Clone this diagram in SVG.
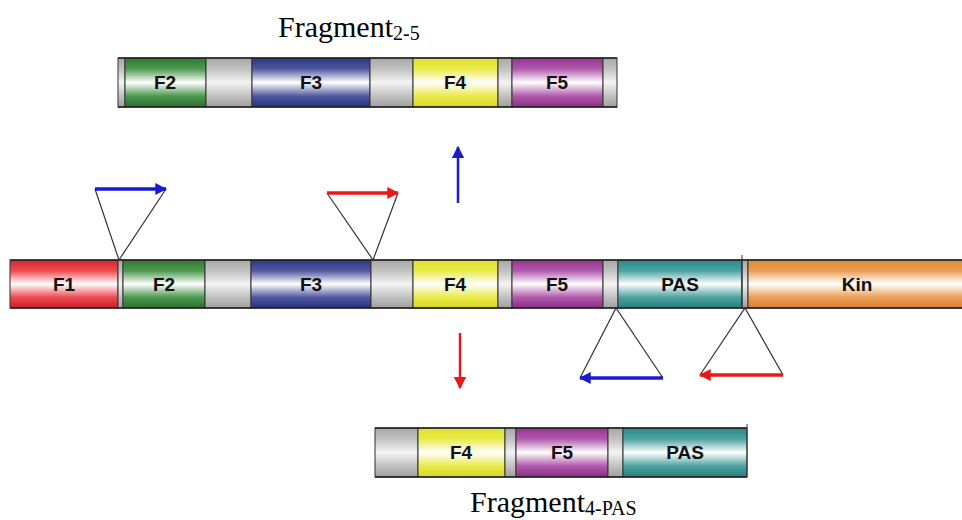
<svg xmlns="http://www.w3.org/2000/svg" width="962" height="520" viewBox="0 0 962 520">
<defs>
<linearGradient id="gR" x1="0" y1="0" x2="0" y2="1"><stop offset="0" stop-color="#d8262c"/><stop offset="0.22" stop-color="#ec4a50"/><stop offset="0.5" stop-color="#ffffff"/><stop offset="0.78" stop-color="#ec4a50"/><stop offset="1" stop-color="#c81e24"/></linearGradient>
<linearGradient id="gG" x1="0" y1="0" x2="0" y2="1"><stop offset="0" stop-color="#2f7a34"/><stop offset="0.22" stop-color="#4c984f"/><stop offset="0.5" stop-color="#ffffff"/><stop offset="0.78" stop-color="#4c984f"/><stop offset="1" stop-color="#2a6e2e"/></linearGradient>
<linearGradient id="gB" x1="0" y1="0" x2="0" y2="1"><stop offset="0" stop-color="#2a3585"/><stop offset="0.22" stop-color="#4f58a0"/><stop offset="0.5" stop-color="#ffffff"/><stop offset="0.78" stop-color="#4f58a0"/><stop offset="1" stop-color="#262f7a"/></linearGradient>
<linearGradient id="gY" x1="0" y1="0" x2="0" y2="1"><stop offset="0" stop-color="#e0e030"/><stop offset="0.22" stop-color="#eaea48"/><stop offset="0.5" stop-color="#ffffff"/><stop offset="0.78" stop-color="#eaea48"/><stop offset="1" stop-color="#d6d628"/></linearGradient>
<linearGradient id="gP" x1="0" y1="0" x2="0" y2="1"><stop offset="0" stop-color="#94348f"/><stop offset="0.22" stop-color="#b058ac"/><stop offset="0.5" stop-color="#ffffff"/><stop offset="0.78" stop-color="#b058ac"/><stop offset="1" stop-color="#892e85"/></linearGradient>
<linearGradient id="gT" x1="0" y1="0" x2="0" y2="1"><stop offset="0" stop-color="#2a8a88"/><stop offset="0.22" stop-color="#4ca2a0"/><stop offset="0.5" stop-color="#ffffff"/><stop offset="0.78" stop-color="#4ca2a0"/><stop offset="1" stop-color="#257f7d"/></linearGradient>
<linearGradient id="gO" x1="0" y1="0" x2="0" y2="1"><stop offset="0" stop-color="#e08a3a"/><stop offset="0.22" stop-color="#ea9e54"/><stop offset="0.5" stop-color="#ffffff"/><stop offset="0.78" stop-color="#ea9e54"/><stop offset="1" stop-color="#d88030"/></linearGradient>
<linearGradient id="gS" x1="0" y1="0" x2="0" y2="1"><stop offset="0" stop-color="#a8a8a8"/><stop offset="0.22" stop-color="#c0c0c0"/><stop offset="0.5" stop-color="#f4f4f4"/><stop offset="0.78" stop-color="#c0c0c0"/><stop offset="1" stop-color="#a0a0a0"/></linearGradient>
<marker id="aB" viewBox="0 0 10 10" refX="9" refY="5" markerWidth="3.4" markerHeight="3.4" orient="auto" markerUnits="strokeWidth"><path d="M0,0 L10,5 L0,10 z" fill="#1a1ad0"/></marker>
<marker id="aR" viewBox="0 0 10 10" refX="9" refY="5" markerWidth="3.4" markerHeight="3.4" orient="auto" markerUnits="strokeWidth"><path d="M0,0 L10,5 L0,10 z" fill="#e81818"/></marker>
<marker id="vB" viewBox="0 0 10 10" refX="9" refY="5" markerWidth="5" markerHeight="5" orient="auto" markerUnits="strokeWidth"><path d="M0,0 L10,5 L0,10 z" fill="#1a1ad0"/></marker>
<marker id="vR" viewBox="0 0 10 10" refX="9" refY="5" markerWidth="5" markerHeight="5" orient="auto" markerUnits="strokeWidth"><path d="M0,0 L10,5 L0,10 z" fill="#e81818"/></marker>
</defs>
<style>
.seg{stroke:#333;stroke-width:1}
.lbl{font-family:"Liberation Sans",Arial,sans-serif;font-weight:bold;font-size:19px;fill:#111;text-anchor:middle}
.tri{fill:none;stroke:#333;stroke-width:1.2}
.blue{stroke:#1a1ad0;stroke-width:3.5;fill:none}
.red{stroke:#e81818;stroke-width:3.5;fill:none}
.vb{stroke:#1a1ad0;stroke-width:2.5;fill:none}
.vr{stroke:#e81818;stroke-width:2.5;fill:none}
.title{font-family:"Liberation Serif","Times New Roman",serif;font-size:30px;fill:#000}
.sub{font-size:20px}
.edge{stroke:#222;stroke-width:1.5}
</style>
<rect width="962" height="520" fill="#ffffff"/>

<g id="main">
<rect class="seg" x="10" y="260" width="108" height="48" fill="url(#gR)"/>
<rect class="seg" x="118" y="260" width="5" height="48" fill="url(#gS)"/>
<rect class="seg" x="123" y="260" width="82" height="48" fill="url(#gG)"/>
<rect class="seg" x="205" y="260" width="46" height="48" fill="url(#gS)"/>
<rect class="seg" x="251" y="260" width="120" height="48" fill="url(#gB)"/>
<rect class="seg" x="371" y="260" width="42" height="48" fill="url(#gS)"/>
<rect class="seg" x="413" y="260" width="85" height="48" fill="url(#gY)"/>
<rect class="seg" x="498" y="260" width="14" height="48" fill="url(#gS)"/>
<rect class="seg" x="512" y="260" width="91" height="48" fill="url(#gP)"/>
<rect class="seg" x="603" y="260" width="15" height="48" fill="url(#gS)"/>
<rect class="seg" x="618" y="260" width="124" height="48" fill="url(#gT)"/>
<rect class="seg" x="742" y="260" width="6" height="48" fill="url(#gS)"/>
<rect class="seg" x="748" y="260" width="216" height="48" fill="url(#gO)"/>
<line class="edge" x1="10" y1="260" x2="962" y2="260"/>
<line class="edge" x1="10" y1="308" x2="962" y2="308"/>
<line x1="742" y1="255" x2="742" y2="308" stroke="#333" stroke-width="1"/>
<text class="lbl" x="64" y="291">F1</text>
<text class="lbl" x="164" y="291">F2</text>
<text class="lbl" x="311" y="291">F3</text>
<text class="lbl" x="455" y="291">F4</text>
<text class="lbl" x="557" y="291">F5</text>
<text class="lbl" x="680" y="291">PAS</text>
<text class="lbl" x="857" y="291">Kin</text>
</g>

<g id="fragment25">
<rect class="seg" x="118" y="58" width="7" height="49" fill="url(#gS)"/>
<rect class="seg" x="125" y="58" width="81" height="49" fill="url(#gG)"/>
<rect class="seg" x="206" y="58" width="46" height="49" fill="url(#gS)"/>
<rect class="seg" x="252" y="58" width="118" height="49" fill="url(#gB)"/>
<rect class="seg" x="370" y="58" width="43" height="49" fill="url(#gS)"/>
<rect class="seg" x="413" y="58" width="85" height="49" fill="url(#gY)"/>
<rect class="seg" x="498" y="58" width="14" height="49" fill="url(#gS)"/>
<rect class="seg" x="512" y="58" width="91" height="49" fill="url(#gP)"/>
<rect class="seg" x="603" y="58" width="14" height="49" fill="url(#gS)"/>
<line class="edge" x1="118" y1="58" x2="617" y2="58"/>
<line class="edge" x1="118" y1="107" x2="617" y2="107"/>
<text class="lbl" x="165" y="89">F2</text>
<text class="lbl" x="311" y="89">F3</text>
<text class="lbl" x="455" y="89">F4</text>
<text class="lbl" x="557" y="89">F5</text>
<text class="title" x="278" y="37">Fragment<tspan class="sub" dy="3">2-5</tspan></text>
</g>

<g id="fragment4pas">
<rect class="seg" x="375" y="428" width="43" height="49" fill="url(#gS)"/>
<rect class="seg" x="418" y="428" width="87" height="49" fill="url(#gY)"/>
<rect class="seg" x="505" y="428" width="11" height="49" fill="url(#gS)"/>
<rect class="seg" x="516" y="428" width="92" height="49" fill="url(#gP)"/>
<rect class="seg" x="608" y="428" width="15" height="49" fill="url(#gS)"/>
<rect class="seg" x="623" y="428" width="124" height="49" fill="url(#gT)"/>
<line class="edge" x1="375" y1="428" x2="747" y2="428"/>
<line class="edge" x1="375" y1="477" x2="747" y2="477"/>
<line x1="747" y1="424" x2="747" y2="477" stroke="#333" stroke-width="1"/>
<text class="lbl" x="461" y="459">F4</text>
<text class="lbl" x="562" y="459">F5</text>
<text class="lbl" x="685" y="459">PAS</text>
<text class="title" x="470" y="512">Fragment<tspan class="sub" dy="3">4-PAS</tspan></text>
</g>

<g id="connectors">
<polyline class="tri" points="95,189 119,260 166,189"/>
<line class="blue" x1="95" y1="189" x2="166" y2="189" marker-end="url(#aB)"/>
<polyline class="tri" points="327,193 373,260 398,193"/>
<line class="red" x1="327" y1="193" x2="398" y2="193" marker-end="url(#aR)"/>
<polyline class="tri" points="580,378 616,308 663,378"/>
<line class="blue" x1="663" y1="378" x2="580" y2="378" marker-end="url(#aB)"/>
<polyline class="tri" points="700,375 745,308 783,375"/>
<line class="red" x1="783" y1="375" x2="700" y2="375" marker-end="url(#aR)"/>
<line class="vb" x1="458" y1="203" x2="458" y2="147" marker-end="url(#vB)"/>
<line class="vr" x1="460" y1="333" x2="460" y2="388" marker-end="url(#vR)"/>
</g>
</svg>
